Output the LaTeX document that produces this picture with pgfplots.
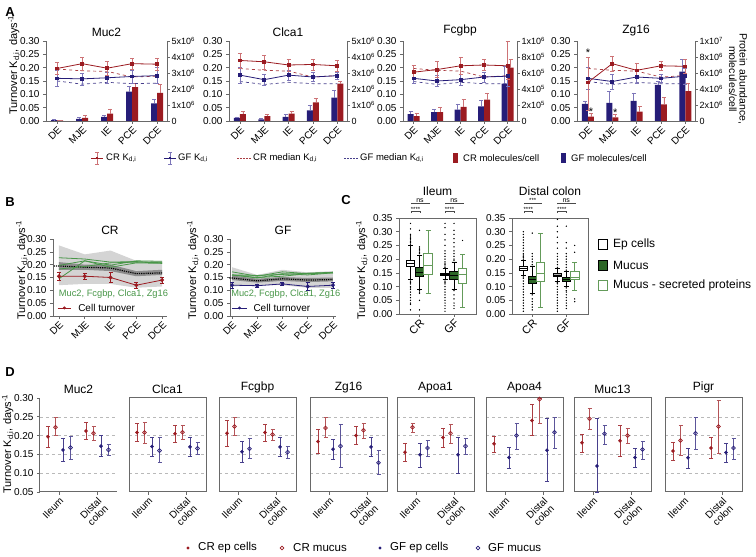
\documentclass[border=0pt]{standalone}
\usepackage{pgfplots}
\pgfplotsset{compat=1.18}
\usepgfplotslibrary{statistics}
\usepackage{fontspec}
\setmainfont{Liberation Sans}
\definecolor{crred}{RGB}{155,27,33}
\definecolor{crlight}{RGB}{205,115,118}
\definecolor{gfblue}{RGB}{38,29,120}
\definecolor{gflight}{RGB}{125,118,185}
\definecolor{mgreen}{RGB}{44,102,38}
\definecolor{lgreen}{RGB}{100,155,90}
\definecolor{tgreen}{RGB}{72,150,72}
\definecolor{spine}{RGB}{105,105,105}
\newcommand{\turn}{Turnover K\textsubscript{d,i}, days\textsuperscript{-1}}
\newcommand{\fs}[1]{\fontsize{#1}{#1}\selectfont}
\newcommand{\tx}[2]{#1x10\textsuperscript{#2}}

\pgfplotsset{
 base/.style={scale only axis, clip=false, axis line style={spine,line width=0.9pt},
   tick style={spine,line width=0.6pt}, tick align=outside, major tick length=3pt,
   tick label style={font=\fs{10}}, scaled y ticks=false, scaled x ticks=false,
   title style={font=\fs{12}, at={(0.5,1)}, anchor=south, yshift=-5pt}},
 turnticks/.style={ytick={0,0.05,0.1,0.15,0.2,0.25,0.3}, yticklabels={0.00,0.05,0.10,0.15,0.20,0.25,0.30}},
 regionticks/.style={xtick={0,1,2,3,4}, xticklabels={DE,MJE,IE,PCE,DCE}, xticklabel style={rotate=45, anchor=north east, inner sep=1pt, font=\fs{10}}},
 Aleft/.style={base, height=80pt, xmin=-0.45, xmax=4.4, ymin=0, ymax=0.3, axis y line*=left, axis x line*=bottom, turnticks, regionticks},
 Aright/.style={base, height=80pt, xmin=-0.45, xmax=4.4, ymin=0, axis y line*=right, axis x line=none, xtick=\empty, ybar=0pt, bar width=6pt, yticklabel style={font=\fs{9}, inner sep=1.5pt}},
 gfbar/.style={fill=gfblue, draw=none, error bars/.cd, y dir=plus, y explicit, error bar style={gflight,line width=0.6pt}, error mark options={rotate=90, mark size=2pt, gflight}},
 crbar/.style={fill=crred, draw=none, error bars/.cd, y dir=plus, y explicit, error bar style={crlight,line width=0.6pt}, error mark options={rotate=90, mark size=2pt, crlight}},
 crline/.style={crred, line width=0.8pt, mark=square*, mark size=1.4pt, error bars/.cd, y dir=both, y explicit, error bar style={crlight,line width=0.6pt}, error mark options={rotate=90, mark size=2pt, crlight}},
 gfline/.style={gfblue, line width=0.8pt, mark=square*, mark size=1.4pt, error bars/.cd, y dir=both, y explicit, error bar style={gflight,line width=0.6pt}, error mark options={rotate=90, mark size=2pt, gflight}},
 crmed/.style={crred!85, dashed, line width=0.7pt, no marks},
 gfmed/.style={gfblue!85, dashed, line width=0.7pt, no marks},
 Bstyle/.style={base, height=77pt, ymin=0, ymax=0.3, axis y line*=left, axis x line*=bottom, turnticks, regionticks},
 greenl/.style={tgreen, line width=0.8pt, no marks},
 Cstyle/.style={base, width=77pt, height=96pt, xmin=0, xmax=7.7, ymin=0, ymax=0.35, tick pos=left,
   boxplot/draw direction=y,
   xtick={2.05,5.5}, xticklabels={CR,GF}, xticklabel style={rotate=45, anchor=north east, inner sep=1pt, font=\fs{11}},
   ytick={0,0.05,0.1,0.15,0.2,0.25,0.3,0.35}, yticklabels={0.00,0.05,0.10,0.15,0.20,0.25,0.30,0.35},
   title style={yshift=18pt}},
 epb/.style={draw=black, fill=white, line width=0.6pt},
 mub/.style={draw=black, fill=mgreen, line width=0.6pt},
 seb/.style={draw=lgreen, fill=white, line width=0.7pt},
 outl/.style={only marks, mark=*, mark size=0.45pt, black},
 Dstyle/.style={base, width=77pt, height=94pt, xmin=0, xmax=77, ymin=0.05, ymax=0.3, tick pos=left,
   axis line style={spine, line width=1pt},
   xtick={19,57}, xticklabels={Ileum,Distal\\colon}, xticklabel style={rotate=45, anchor=north east, align=center, inner sep=1pt, font=\fs{10}}},
 Dgrid/.style={ytick={0.1,0.15,0.2,0.25}, yticklabels={}, ytick style={draw=none}, ymajorgrids, grid style={dashed, gray!55, line width=0.4pt}},
 cre/.style={only marks, crred, mark=*, mark size=1.6pt, error bars/.cd, y dir=both, y explicit, error bar style={crred!85,line width=0.7pt}, error mark options={rotate=90, mark size=2pt, crred!85}},
 crm/.style={only marks, crred, mark=o, mark size=1.9pt, mark options={fill=white, line width=0.7pt}, error bars/.cd, y dir=both, y explicit, error bar style={crred!75,line width=0.7pt}, error mark options={rotate=90, mark size=2pt, crred!75}},
 gfe/.style={only marks, gfblue, mark=*, mark size=1.6pt, error bars/.cd, y dir=both, y explicit, error bar style={gfblue!85,line width=0.7pt}, error mark options={rotate=90, mark size=2pt, gfblue!85}},
 gfm/.style={only marks, gfblue, mark=o, mark size=1.9pt, mark options={fill=white, line width=0.7pt}, error bars/.cd, y dir=both, y explicit, error bar style={gfblue!75,line width=0.7pt}, error mark options={rotate=90, mark size=2pt, gfblue!75}},
}

\begin{document}
\begin{tikzpicture}[x=1pt,y=1pt]
\useasboundingbox (0,0) rectangle (756,557);

% ================= Panel labels =================
\node[font=\bfseries\fs{13}] at (10,545) {A};
\node[font=\bfseries\fs{13}] at (10,355) {B};
\node[font=\bfseries\fs{13}] at (346,357) {C};
\node[font=\bfseries\fs{13}] at (10,185) {D};

% ================= Panel A =================
\node[rotate=90, font=\fs{11}] at (14,492) {\turn};
% Muc2
\begin{axis}[Aright, at={(46pt,516pt)}, anchor=north west, width=121pt, ymax=5e6,
  ytick={0,1e6,2e6,3e6,4e6,5e6}, yticklabels={0,\tx{1}{6},\tx{2}{6},\tx{3}{6},\tx{4}{6},\tx{5}{6}}]
\addplot[gfbar] coordinates {(0,50000) +- (0,33000) (1,133000) +- (0,83000) (2,250000) +- (0,83000) (3,1833000) +- (0,333000) (4,1100000) +- (0,233000)};
\addplot[crbar] coordinates {(0,33000) +- (0,17000) (1,200000) +- (0,167000) (2,467000) +- (0,300000) (3,2117000) +- (0,217000) (4,1750000) +- (0,550000)};
\end{axis}
\begin{axis}[Aleft, at={(46pt,516pt)}, anchor=north west, width=121pt, title={Muc2}]
\addplot[crmed] coordinates {(0,0.195) (1,0.188) (2,0.186) (3,0.165) (4,0.168)};
\addplot[gfmed] coordinates {(0,0.150) (1,0.138) (2,0.145) (3,0.140) (4,0.142)};
\addplot[gfline] coordinates {(0,0.160) +- (0,0.030) (1,0.158) +- (0,0.022) (2,0.162) +- (0,0.020) (3,0.167) +- (0,0.025) (4,0.170) +- (0,0.030)};
\addplot[crline] coordinates {(0,0.197) +- (0,0.022) (1,0.215) +- (0,0.025) (2,0.198) +- (0,0.025) (3,0.215) +- (0,0.022) (4,0.213) +- (0,0.022)};
\end{axis}
% Clca1
\begin{axis}[Aright, at={(229pt,516pt)}, anchor=north west, width=118pt, ymax=5e6,
  ytick={0,1e6,2e6,3e6,4e6,5e6}, yticklabels={0,\tx{1}{6},\tx{2}{6},\tx{3}{6},\tx{4}{6},\tx{5}{6}}]
\addplot[gfbar] coordinates {(0,200000) +- (0,67000) (1,100000) +- (0,67000) (2,250000) +- (0,167000) (3,667000) +- (0,333000) (4,1467000) +- (0,450000)};
\addplot[crbar] coordinates {(0,433000) +- (0,150000) (1,300000) +- (0,117000) (2,467000) +- (0,133000) (3,1167000) +- (0,250000) (4,2333000) +- (0,167000)};
\end{axis}
\begin{axis}[Aleft, at={(229pt,516pt)}, anchor=north west, width=118pt, title={Clca1}]
\addplot[crmed] coordinates {(0,0.197) (1,0.190) (2,0.187) (3,0.165) (4,0.170)};
\addplot[gfmed] coordinates {(0,0.148) (1,0.137) (2,0.145) (3,0.140) (4,0.140)};
\addplot[gfline] coordinates {(0,0.172) +- (0,0.030) (1,0.155) +- (0,0.020) (2,0.172) +- (0,0.018) (3,0.165) +- (0,0.017) (4,0.170) +- (0,0.012)};
\addplot[crline] coordinates {(0,0.227) +- (0,0.028) (1,0.222) +- (0,0.026) (2,0.210) +- (0,0.022) (3,0.212) +- (0,0.020) (4,0.207) +- (0,0.022)};
\end{axis}
% Fcgbp
\begin{axis}[Aright, at={(403pt,516pt)}, anchor=north west, width=114pt, ymax=1e6,
  ytick={0,2e5,4e5,6e5,8e5,1e6}, yticklabels={0,\tx{2}{5},\tx{4}{5},\tx{6}{5},\tx{8}{5},\tx{1}{6}}]
\addplot[gfbar] coordinates {(0,87000) +- (0,33000) (1,110000) +- (0,33000) (2,143000) +- (0,73000) (3,183000) +- (0,73000) (4,467000) +- (0,217000)};
\addplot[crbar] coordinates {(0,60000) +- (0,40000) (1,110000) +- (0,57000) (2,177000) +- (0,90000) (3,267000) +- (0,83000) (4,667000) +- (0,100000)};
\end{axis}
\begin{axis}[Aleft, at={(403pt,516pt)}, anchor=north west, width=114pt, title={Fcgbp}]
\addplot[crmed] coordinates {(0,0.197) (1,0.190) (2,0.187) (3,0.165) (4,0.170)};
\addplot[gfmed] coordinates {(0,0.148) (1,0.137) (2,0.145) (3,0.140) (4,0.140)};
\addplot[gfline] coordinates {(0,0.160) +- (0,0.020) (1,0.150) +- (0,0.020) (2,0.155) +- (0,0.020) (3,0.165) +- (0,0.018) (4,0.168) +- (0,0.037)};
\addplot[crline] coordinates {(0,0.183) +- (0,0.025) (1,0.193) +- (0,0.030) (2,0.207) +- (0,0.032) (3,0.210) +- (0,0.020) (4,0.207) += (0,0.093) -= (0,0.050)};
\end{axis}
% Zg16
\begin{axis}[Aright, at={(577pt,516pt)}, anchor=north west, width=118pt, ymax=1e7,
  ytick={0,2e6,4e6,6e6,8e6,1e7}, yticklabels={0,\tx{2}{6},\tx{4}{6},\tx{6}{6},\tx{8}{6},\tx{1}{7}}]
\addplot[gfbar] coordinates {(0,2133000) +- (0,400000) (1,2267000) +- (0,1400000) (2,2500000) +- (0,1000000) (3,4500000) +- (0,500000) (4,6167000) +- (0,1500000)};
\addplot[crbar] coordinates {(0,533000) +- (0,467000) (1,467000) +- (0,367000) (2,1167000) +- (0,667000) (3,2067000) +- (0,933000) (4,3733000) +- (0,933000)};
\end{axis}
\begin{axis}[Aleft, at={(577pt,516pt)}, anchor=north west, width=118pt, title={Zg16}]
\addplot[crmed] coordinates {(0,0.197) (1,0.190) (2,0.187) (3,0.165) (4,0.170)};
\addplot[gfmed] coordinates {(0,0.148) (1,0.137) (2,0.145) (3,0.140) (4,0.140)};
\addplot[gfline] coordinates {(0,0.160) +- (0,0.040) (1,0.148) +- (0,0.027) (2,0.165) +- (0,0.022) (3,0.160) +- (0,0.015) (4,0.168) +- (0,0.030)};
\addplot[crline] coordinates {(0,0.145) += (0,0.095) -= (0,0.105) (1,0.215) +- (0,0.028) (2,0.190) +- (0,0.028) (3,0.207) +- (0,0.018) (4,0.205) +- (0,0.025)};
\node[font=\fs{11}] at (axis cs:0,0.255) {*};
\node[font=\fs{11}, xshift=3pt] at (axis cs:0,0.036) {*};
\node[font=\fs{11}, xshift=3pt] at (axis cs:1,0.031) {*};
\end{axis}
\node[rotate=-90, align=center, font=\fs{10.5}, inner sep=0pt] at (738,478) {Protein abundance,\\molecules/cell};

% legend A
\begin{scope}[font=\fs{9.5}]
\draw[crred, line width=0.8pt] (91,399) -- (103,399);
\draw[crlight, line width=0.6pt] (97,393) -- (97,405) (95,393) -- (99,393) (95,405) -- (99,405);
\fill[crred] (95.6,397.6) rectangle (98.4,400.4);
\node[anchor=west, inner sep=0pt] at (106,399) {CR K\textsubscript{d,i}};
\draw[gfblue, line width=0.8pt] (164,399) -- (176,399);
\draw[gflight, line width=0.6pt] (170,393) -- (170,405) (168,393) -- (172,393) (168,405) -- (172,405);
\fill[gfblue] (168.6,397.6) rectangle (171.4,400.4);
\node[anchor=west, inner sep=0pt] at (178,399) {GF K\textsubscript{d,i}};
\draw[crred!85, line width=0.6pt, dash pattern=on 2pt off 1pt] (237,399) -- (251,399);
\node[anchor=west, inner sep=0pt] at (253,399) {CR median K\textsubscript{d,i}};
\draw[gfblue!85, line width=0.6pt, dash pattern=on 2pt off 1pt] (344,399) -- (358,399);
\node[anchor=west, inner sep=0pt] at (360,399) {GF median K\textsubscript{d,i}};
\fill[crred] (453,394) rectangle (458,404);
\node[anchor=west, inner sep=0pt] at (463,399) {CR molecules/cell};
\fill[gfblue] (561,394) rectangle (566,404);
\node[anchor=west, inner sep=0pt] at (571,399) {GF molecules/cell};
\end{scope}

% ================= Panel B =================
\node[rotate=90, font=\fs{11}] at (22,287) {\turn};
\begin{axis}[Bstyle, at={(53pt,318pt)}, anchor=north west, width=114pt, xmin=-0.23, xmax=4.19, title={CR}]
\addplot[fill=black!17, draw=none] coordinates {(0,0.275) (1,0.240) (2,0.255) (3,0.215) (4,0.215) (4,0.115) (3,0.110) (2,0.125) (1,0.125) (0,0.120)};
\addplot[fill=black!45, draw=none] coordinates {(0,0.210) (1,0.200) (2,0.200) (3,0.175) (4,0.180) (4,0.160) (3,0.155) (2,0.175) (1,0.180) (0,0.180)};
\addplot[black, densely dotted, line width=1.2pt, no marks] coordinates {(-0.2,0.195) (0,0.195) (1,0.190) (2,0.187) (3,0.165) (4,0.168)};
\addplot[greenl] coordinates {(0,0.197) (1,0.215) (2,0.198) (3,0.215) (4,0.213)};
\addplot[greenl] coordinates {(0,0.227) (1,0.222) (2,0.210) (3,0.212) (4,0.207)};
\addplot[greenl] coordinates {(0,0.183) (1,0.193) (2,0.207) (3,0.210) (4,0.207)};
\addplot[greenl] coordinates {(0,0.145) (1,0.215) (2,0.190) (3,0.207) (4,0.205)};
\addplot[crred, line width=0.8pt, mark=*, mark size=1.5pt, error bars/.cd, y dir=both, y explicit, error bar style={crred,line width=0.6pt}, error mark options={rotate=90, mark size=2pt, crred}]
 coordinates {(0,0.155) +- (0,0.015) (1,0.155) +- (0,0.010) (2,0.150) +- (0,0.020) (3,0.120) +- (0,0.010) (4,0.140) +- (0,0.012)};
\node[anchor=west, font=\fs{9.3}, text=tgreen, inner sep=0pt] at (rel axis cs:0.05,0.29) {Muc2, Fcgbp, Clca1, Zg16};
\draw[crred, line width=0.8pt] (rel axis cs:0.04,0.105) -- (rel axis cs:0.16,0.105);
\fill[crred] (rel axis cs:0.10,0.105) circle (1.6pt);
\node[anchor=west, font=\fs{10}, inner sep=0pt] at (rel axis cs:0.22,0.105) {Cell turnover};
\end{axis}
\node[rotate=90, font=\fs{11}] at (193,287) {\turn};
\begin{axis}[Bstyle, at={(230pt,318pt)}, anchor=north west, width=106pt, xmin=-0.08, xmax=4.12, title={GF}]
\addplot[fill=black!17, draw=none] coordinates {(0,0.190) (1,0.160) (2,0.180) (3,0.170) (4,0.175) (4,0.110) (3,0.110) (2,0.120) (1,0.120) (0,0.115)};
\addplot[fill=black!45, draw=none] coordinates {(0,0.158) (1,0.145) (2,0.152) (3,0.148) (4,0.150) (4,0.135) (3,0.132) (2,0.137) (1,0.130) (0,0.140)};
\addplot[black, densely dotted, line width=1.2pt, no marks] coordinates {(-0.1,0.148) (0,0.148) (1,0.137) (2,0.145) (3,0.140) (4,0.142)};
\addplot[greenl] coordinates {(0,0.160) (1,0.158) (2,0.162) (3,0.167) (4,0.170)};
\addplot[greenl] coordinates {(0,0.172) (1,0.155) (2,0.172) (3,0.165) (4,0.170)};
\addplot[greenl] coordinates {(0,0.160) (1,0.150) (2,0.155) (3,0.165) (4,0.168)};
\addplot[greenl] coordinates {(0,0.160) (1,0.148) (2,0.165) (3,0.160) (4,0.168)};
\addplot[gfblue, line width=0.8pt, mark=*, mark size=1.5pt, error bars/.cd, y dir=both, y explicit, error bar style={gfblue,line width=0.6pt}, error mark options={rotate=90, mark size=2pt, gfblue}]
 coordinates {(0,0.120) +- (0,0.012) (1,0.118) +- (0,0.005) (2,0.125) +- (0,0.005) (3,0.115) +- (0,0.015) (4,0.120) +- (0,0.010)};
\node[anchor=west, font=\fs{9.3}, text=tgreen, inner sep=0pt] at (rel axis cs:0.01,0.29) {Muc2, Fcgbp, Clca1, Zg16};
\draw[gfblue, line width=0.8pt] (rel axis cs:0.02,0.105) -- (rel axis cs:0.16,0.105);
\fill[gfblue] (rel axis cs:0.09,0.105) circle (1.6pt);
\node[anchor=west, font=\fs{10}, inner sep=0pt] at (rel axis cs:0.22,0.105) {Cell turnover};
\end{axis}

% ================= Panel C =================
\node[rotate=90, font=\fs{11}] at (362,287) {\turn};
\begin{axis}[Cstyle, at={(399pt,339pt)}, anchor=north west, title={Ileum}]
\addplot[outl] coordinates {(1.15,0.255) (1.15,0.26) (1.15,0.265) (1.15,0.27) (1.15,0.275) (1.15,0.28) (1.15,0.285) (1.15,0.29) (1.15,0.31) (1.15,0.33) (1.15,0.12) (1.15,0.115) (1.15,0.11) (1.15,0.10) (1.15,0.095) (1.15,0.09) (1.15,0.08) (1.15,0.07) (1.15,0.06) (1.15,0.05) (1.15,0.04) (1.15,0.035) (1.15,0.015)};
\addplot[outl] coordinates {(2.05,0.22) (2.05,0.225) (2.05,0.23) (2.05,0.235) (2.05,0.24) (2.05,0.245) (2.05,0.305) (2.05,0.085) (2.05,0.08) (2.05,0.075) (2.05,0.05) (2.05,0.015)};
\addplot[outl] coordinates {(4.6,0.17) (4.6,0.175) (4.6,0.18) (4.6,0.185) (4.6,0.19) (4.6,0.2) (4.6,0.21) (4.6,0.22) (4.6,0.23) (4.6,0.25) (4.6,0.27) (4.6,0.29) (4.6,0.315) (4.6,0.33) (4.6,0.12) (4.6,0.115) (4.6,0.11) (4.6,0.10) (4.6,0.09) (4.6,0.08) (4.6,0.07) (4.6,0.06) (4.6,0.05) (4.6,0.04) (4.6,0.03) (4.6,0.02) (4.6,0.01)};
\addplot[outl] coordinates {(5.5,0.195) (5.5,0.2) (5.5,0.21) (5.5,0.22) (5.5,0.23) (5.5,0.245) (5.5,0.26) (5.5,0.275) (5.5,0.29) (5.5,0.305) (5.5,0.33) (5.5,0.085) (5.5,0.07) (5.5,0.055) (5.5,0.04) (5.5,0.03) (5.5,0.02)};
\addplot[outl] coordinates {(6.35,0.268)};
\addplot[epb, boxplot prepared={draw position=1.15, lower whisker=0.125, lower quartile=0.175, median=0.185, upper quartile=0.195, upper whisker=0.25, box extend=0.85, whisker extend=0.5}] coordinates {};
\addplot[mub, boxplot prepared={draw position=2.05, lower whisker=0.09, lower quartile=0.138, median=0.153, upper quartile=0.17, upper whisker=0.215, box extend=0.85, whisker extend=0.5}] coordinates {};
\addplot[seb, boxplot prepared={draw position=2.9, lower whisker=0.075, lower quartile=0.145, median=0.178, upper quartile=0.22, upper whisker=0.305, box extend=0.85, whisker extend=0.5}] coordinates {};
\addplot[epb, fill=black!30, boxplot prepared={draw position=4.6, lower whisker=0.125, lower quartile=0.14, median=0.145, upper quartile=0.15, upper whisker=0.165, box extend=0.85, whisker extend=0.5}] coordinates {};
\addplot[mub, boxplot prepared={draw position=5.5, lower whisker=0.09, lower quartile=0.125, median=0.14, upper quartile=0.155, upper whisker=0.19, box extend=0.85, whisker extend=0.5}] coordinates {};
\addplot[seb, boxplot prepared={draw position=6.35, lower whisker=0.025, lower quartile=0.11, median=0.143, upper quartile=0.165, upper whisker=0.217, box extend=0.85, whisker extend=0.5}] coordinates {};
\begin{scope}[spine!70!black, line width=0.5pt]
\draw (axis cs:1.2,0.368) -- (axis cs:1.2,0.373) -- (axis cs:2.1,0.373) -- (axis cs:2.1,0.368);
\draw (axis cs:1.2,0.400) -- (axis cs:1.2,0.405) -- (axis cs:3.0,0.405) -- (axis cs:3.0,0.400);
\draw (axis cs:4.6,0.368) -- (axis cs:4.6,0.373) -- (axis cs:5.5,0.373) -- (axis cs:5.5,0.368);
\draw (axis cs:4.6,0.400) -- (axis cs:4.6,0.405) -- (axis cs:6.4,0.405) -- (axis cs:6.4,0.400);
\end{scope}
\node[font=\fs{6}, inner sep=0pt, anchor=south] at (axis cs:1.65,0.374) {****};
\node[font=\fs{7}, inner sep=0pt, anchor=south] at (axis cs:2.1,0.407) {ns};
\node[font=\fs{6}, inner sep=0pt, anchor=south] at (axis cs:5.05,0.374) {****};
\node[font=\fs{7}, inner sep=0pt, anchor=south] at (axis cs:5.5,0.407) {ns};
\end{axis}
\begin{axis}[Cstyle, at={(512pt,339pt)}, anchor=north west, width=76pt, title={Distal colon}]
\addplot[outl] coordinates {(1.15,0.2) (1.15,0.205) (1.15,0.21) (1.15,0.215) (1.15,0.22) (1.15,0.23) (1.15,0.24) (1.15,0.25) (1.15,0.26) (1.15,0.27) (1.15,0.28) (1.15,0.29) (1.15,0.30) (1.15,0.135) (1.15,0.13) (1.15,0.12) (1.15,0.11) (1.15,0.10) (1.15,0.09) (1.15,0.08) (1.15,0.07) (1.15,0.06) (1.15,0.05) (1.15,0.04) (1.15,0.03) (1.15,0.02) (1.15,0.01)};
\addplot[outl] coordinates {(2.05,0.18) (2.05,0.19) (2.05,0.2) (2.05,0.21) (2.05,0.22) (2.05,0.295) (2.05,0.07) (2.05,0.055) (2.05,0.045) (2.05,0.035) (2.05,0.025) (2.05,0.015)};
\addplot[outl] coordinates {(4.6,0.17) (4.6,0.18) (4.6,0.19) (4.6,0.2) (4.6,0.21) (4.6,0.22) (4.6,0.24) (4.6,0.26) (4.6,0.28) (4.6,0.30) (4.6,0.32) (4.6,0.345) (4.6,0.115) (4.6,0.11) (4.6,0.10) (4.6,0.09) (4.6,0.08) (4.6,0.07) (4.6,0.06) (4.6,0.05) (4.6,0.04) (4.6,0.03) (4.6,0.02) (4.6,0.01)};
\addplot[outl] coordinates {(5.5,0.16) (5.5,0.17) (5.5,0.18) (5.5,0.19) (5.5,0.2) (5.5,0.21) (5.5,0.22) (5.5,0.24) (5.5,0.26) (5.5,0.32) (5.5,0.095) (5.5,0.085) (5.5,0.08) (5.5,0.07) (5.5,0.06) (5.5,0.05) (5.5,0.04) (5.5,0.03) (5.5,0.02)};
\addplot[outl] coordinates {(6.35,0.045) (6.35,0.055) (6.35,0.225) (6.35,0.25)};
\addplot[epb, boxplot prepared={draw position=1.15, lower whisker=0.14, lower quartile=0.16, median=0.168, upper quartile=0.175, upper whisker=0.195, box extend=0.85, whisker extend=0.5}] coordinates {};
\addplot[mub, boxplot prepared={draw position=2.05, lower whisker=0.075, lower quartile=0.112, median=0.125, upper quartile=0.138, upper whisker=0.175, box extend=0.85, whisker extend=0.5}] coordinates {};
\addplot[seb, boxplot prepared={draw position=2.9, lower whisker=0.025, lower quartile=0.12, median=0.147, upper quartile=0.188, upper whisker=0.295, box extend=0.85, whisker extend=0.5}] coordinates {};
\addplot[epb, fill=black!30, boxplot prepared={draw position=4.6, lower whisker=0.12, lower quartile=0.137, median=0.142, upper quartile=0.15, upper whisker=0.165, box extend=0.85, whisker extend=0.5}] coordinates {};
\addplot[mub, boxplot prepared={draw position=5.5, lower whisker=0.10, lower quartile=0.118, median=0.128, upper quartile=0.135, upper whisker=0.155, box extend=0.85, whisker extend=0.5}] coordinates {};
\addplot[seb, boxplot prepared={draw position=6.35, lower whisker=0.085, lower quartile=0.125, median=0.135, upper quartile=0.155, upper whisker=0.187, box extend=0.85, whisker extend=0.5}] coordinates {};
\begin{scope}[spine!70!black, line width=0.5pt]
\draw (axis cs:1.2,0.368) -- (axis cs:1.2,0.373) -- (axis cs:2.1,0.373) -- (axis cs:2.1,0.368);
\draw (axis cs:1.2,0.400) -- (axis cs:1.2,0.405) -- (axis cs:3.0,0.405) -- (axis cs:3.0,0.400);
\draw (axis cs:4.6,0.368) -- (axis cs:4.6,0.373) -- (axis cs:5.5,0.373) -- (axis cs:5.5,0.368);
\draw (axis cs:4.6,0.400) -- (axis cs:4.6,0.405) -- (axis cs:6.4,0.405) -- (axis cs:6.4,0.400);
\end{scope}
\node[font=\fs{6}, inner sep=0pt, anchor=south] at (axis cs:1.65,0.374) {****};
\node[font=\fs{6}, inner sep=0pt, anchor=south] at (axis cs:2.1,0.406) {***};
\node[font=\fs{6}, inner sep=0pt, anchor=south] at (axis cs:5.05,0.374) {****};
\node[font=\fs{7}, inner sep=0pt, anchor=south] at (axis cs:5.5,0.407) {ns};
\end{axis}
% legend C
\begin{scope}[font=\fs{12}]
\draw[black, line width=0.6pt, fill=white] (598,308) rectangle (607,318);
\node[anchor=west, inner sep=0pt] at (613,313) {Ep cells};
\draw[black, line width=0.6pt, fill=mgreen] (598,287) rectangle (607,297);
\node[anchor=west, inner sep=0pt] at (613,292) {Mucus};
\draw[lgreen, line width=0.7pt, fill=white] (598,267) rectangle (607,277);
\node[anchor=west, inner sep=0pt] at (613,272) {Mucus - secreted proteins};
\end{scope}

% ================= Panel D =================
\node[rotate=90, font=\fs{11}] at (8,113) {\turn};
% Muc2
\begin{axis}[Dstyle, at={(40pt,159pt)}, anchor=north west, axis x line*=bottom, axis y line*=left,
  ytick={0.05,0.1,0.15,0.2,0.25,0.3}, yticklabels={0.05,0.10,0.15,0.20,0.25,0.30},
  extra y ticks={0.1,0.15,0.2,0.25}, extra y tick labels={}, extra y tick style={grid=major, major tick length=0pt},
  grid style={dashed, gray!55, line width=0.4pt}, title={Muc2}]
\addplot[cre] coordinates {(8,0.197) += (0,0.028) -= (0,0.027) (46,0.212) += (0,0.023) -= (0,0.022)};
\addplot[crm] coordinates {(15.5,0.222) += (0,0.026) -= (0,0.022) (53.5,0.206) += (0,0.019) -= (0,0.018)};
\addplot[gfe] coordinates {(23,0.162) +- (0,0.030) (61,0.172) += (0,0.028) -= (0,0.027)};
\addplot[gfm] coordinates {(30.5,0.168) +- (0,0.030) (68.5,0.162) += (0,0.016) -= (0,0.015)};
\end{axis}
% Clca1
\begin{axis}[Dstyle, Dgrid, at={(129pt,159pt)}, anchor=north west, title={Clca1}]
\addplot[cre] coordinates {(8,0.208) +- (0,0.024) (46,0.205) +- (0,0.023)};
\addplot[crm] coordinates {(15.5,0.208) +- (0,0.027) (53.5,0.209) +- (0,0.018)};
\addplot[gfe] coordinates {(23,0.171) +- (0,0.025) (61,0.170) +- (0,0.025)};
\addplot[gfm] coordinates {(30.5,0.160) += (0,0.035) -= (0,0.032) (68.5,0.166) +- (0,0.016)};
\end{axis}
% Fcgbp
\begin{axis}[Dstyle, Dgrid, at={(219pt,159pt)}, anchor=north west, title={Fcgbp}]
\addplot[cre] coordinates {(8,0.206) +- (0,0.034) (46,0.208) +- (0,0.023)};
\addplot[crm] coordinates {(15.5,0.224) +- (0,0.024) (53.5,0.203) +- (0,0.015)};
\addplot[gfe] coordinates {(23,0.157) +- (0,0.029) (61,0.170) +- (0,0.025)};
\addplot[gfm] coordinates {(30.5,0.165) += (0,0.027) -= (0,0.025) (68.5,0.156) +- (0,0.015)};
\end{axis}
% Zg16
\begin{axis}[Dstyle, Dgrid, at={(310pt,159pt)}, anchor=north west, title={Zg16}]
\addplot[cre] coordinates {(8,0.184) +- (0,0.032) (46,0.200) += (0,0.026) -= (0,0.022)};
\addplot[crm] coordinates {(15.5,0.220) += (0,0.028) -= (0,0.025) (53.5,0.214) +- (0,0.020)};
\addplot[gfe] coordinates {(23,0.164) += (0,0.027) -= (0,0.026) (61,0.170) += (0,0.026) -= (0,0.025)};
\addplot[gfm] coordinates {(30.5,0.172) += (0,0.058) -= (0,0.057) (68.5,0.128) += (0,0.032) -= (0,0.031)};
\end{axis}
% Apoa1
\begin{axis}[Dstyle, Dgrid, at={(397pt,159pt)}, anchor=north west, title={Apoa1}]
\addplot[cre] coordinates {(8,0.156) += (0,0.024) -= (0,0.025) (46,0.195) += (0,0.024) -= (0,0.025)};
\addplot[crm] coordinates {(15.5,0.222) += (0,0.012) -= (0,0.013) (53.5,0.206) += (0,0.024) -= (0,0.026)};
\addplot[gfe] coordinates {(23,0.149) += (0,0.032) -= (0,0.033) (61,0.149) += (0,0.047) -= (0,0.048)};
\addplot[gfm] coordinates {(30.5,0.167) += (0,0.021) -= (0,0.023) (68.5,0.172) +- (0,0.022)};
\end{axis}
% Apoa4
\begin{axis}[Dstyle, Dgrid, at={(486pt,159pt)}, anchor=north west, title={Apoa4}]
\addplot[cre] coordinates {(8,0.178) += (0,0.020) -= (0,0.021) (46,0.240) += (0,0.044) -= (0,0.040)};
\addplot[crm] coordinates {(53.5,0.297) += (0,0.003) -= (0,0.063)};
\addplot[gfe] coordinates {(23,0.142) += (0,0.028) -= (0,0.030) (61,0.161) += (0,0.086) -= (0,0.083)};
\addplot[gfm] coordinates {(30.5,0.200) += (0,0.034) -= (0,0.035) (68.5,0.209) += (0,0.041) -= (0,0.042)};
\end{axis}
% Muc13
\begin{axis}[Dstyle, Dgrid, at={(574pt,159pt)}, anchor=north west, title={Muc13}]
\addplot[cre] coordinates {(8,0.181) += (0,0.023) -= (0,0.026) (46,0.186) += (0,0.041) -= (0,0.042)};
\addplot[crm] coordinates {(15.5,0.245) += (0,0.027) -= (0,0.028) (53.5,0.200) += (0,0.019) -= (0,0.020)};
\addplot[gfe] coordinates {(23,0.119) += (0,0.128) -= (0,0.069) (61,0.142) += (0,0.025) -= (0,0.026)};
\addplot[gfm] coordinates {(30.5,0.205) += (0,0.023) -= (0,0.027) (68.5,0.163) += (0,0.022) -= (0,0.025)};
\end{axis}
% Pigr
\begin{axis}[Dstyle, Dgrid, at={(665pt,159pt)}, anchor=north west, title={Pigr}]
\addplot[cre] coordinates {(8,0.159) += (0,0.023) -= (0,0.025) (46,0.167) += (0,0.028) -= (0,0.027)};
\addplot[crm] coordinates {(15.5,0.187) += (0,0.041) -= (0,0.040) (53.5,0.224) += (0,0.071) -= (0,0.071)};
\addplot[gfe] coordinates {(23,0.141) += (0,0.026) -= (0,0.028) (61,0.155) +- (0,0.026)};
\addplot[gfm] coordinates {(30.5,0.206) += (0,0.044) -= (0,0.043) (68.5,0.167) += (0,0.026) -= (0,0.029)};
\end{axis}
% legend D
\begin{scope}[font=\fs{11.5}]
\fill[crred] (188,9) circle (1.6pt);
\node[anchor=west, inner sep=0pt] at (198,9) {CR ep cells};
\draw[crred, line width=0.7pt, fill=white] (282,9) circle (1.8pt);
\node[anchor=west, inner sep=0pt] at (293,9) {CR mucus};
\fill[gfblue] (380,9) circle (1.6pt);
\node[anchor=west, inner sep=0pt] at (390,9) {GF ep cells};
\draw[gfblue, line width=0.7pt, fill=white] (478,9) circle (1.8pt);
\node[anchor=west, inner sep=0pt] at (488,9) {GF mucus};
\end{scope}
\end{tikzpicture}
\end{document}
